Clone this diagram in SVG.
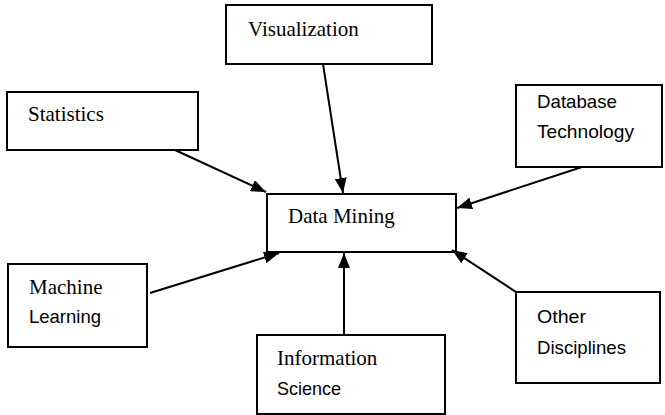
<svg xmlns="http://www.w3.org/2000/svg" width="665" height="415" viewBox="0 0 665 415">
<style>
.box{fill:#fff;stroke:#000;stroke-width:2}
.t{font-family:"Liberation Serif","Times New Roman",serif;font-size:21px;fill:#000}
.c{font-family:"Liberation Sans",Arial,sans-serif;font-size:18.5px;fill:#000}
.con line{stroke:#000;stroke-width:2}
</style>
<defs>
<marker id="ah" markerUnits="userSpaceOnUse" markerWidth="16" markerHeight="12" refX="15" refY="6" orient="auto">
<path d="M0,0 L15,6 L0,12 z" fill="#000"/>
</marker>
</defs>
<rect width="665" height="415" fill="#fff"/>
<g id="visualization"><rect class="box" x="226" y="5" width="206" height="59"/><text class="t" x="248" y="36">Visualization</text></g>
<g id="statistics"><rect class="box" x="7" y="92" width="191" height="58"/><text class="t" x="28" y="121">Statistics</text></g>
<g id="database"><rect class="box" x="516" y="85" width="146" height="82"/><text class="c" x="537" y="108" textLength="80" lengthAdjust="spacingAndGlyphs">Database</text><text class="c" x="537" y="138" textLength="97" lengthAdjust="spacingAndGlyphs">Technology</text></g>
<g id="datamining"><rect class="box" x="267" y="194" width="189" height="58"/><text class="t" x="288" y="223">Data Mining</text></g>
<g id="machine"><rect class="box" x="8" y="264" width="139" height="83"/><text class="t" x="29" y="294">Machine</text><text class="c" x="29" y="323" textLength="72" lengthAdjust="spacingAndGlyphs">Learning</text></g>
<g id="information"><rect class="box" x="257" y="335" width="188" height="79"/><text class="t" x="277" y="365">Information</text><text class="c" x="277" y="395" textLength="64" lengthAdjust="spacingAndGlyphs">Science</text></g>
<g id="other"><rect class="box" x="516" y="292" width="144" height="91"/><text class="c" x="537" y="323" textLength="49" lengthAdjust="spacingAndGlyphs">Other</text><text class="c" x="537" y="354" textLength="89" lengthAdjust="spacingAndGlyphs">Disciplines</text></g>
<g class="con" id="connectors">
<line x1="323" y1="64" x2="343" y2="193" marker-end="url(#ah)"/>
<line x1="175" y1="150" x2="266" y2="192" marker-end="url(#ah)"/>
<line x1="582" y1="167" x2="457" y2="208" marker-end="url(#ah)"/>
<line x1="150" y1="293" x2="279" y2="253" marker-end="url(#ah)"/>
<line x1="344" y1="335" x2="344" y2="253" marker-end="url(#ah)"/>
<line x1="516" y1="292" x2="452" y2="250" marker-end="url(#ah)"/>
</g>
</svg>
